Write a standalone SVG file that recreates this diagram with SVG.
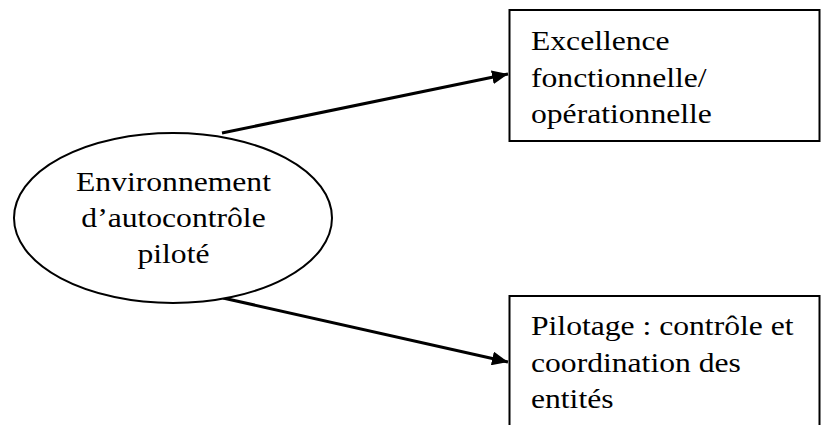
<svg xmlns="http://www.w3.org/2000/svg" width="821" height="425" viewBox="0 0 821 425">
<style>
.shape{fill:#fff;stroke:#000;stroke-width:2}
.conn{stroke:#000;stroke-width:3;fill:none}
.t{font-family:"Liberation Serif","Times New Roman",serif;font-size:27.5px;fill:#000}
.c{text-anchor:middle}
</style>
<defs>
<marker id="arr" markerUnits="userSpaceOnUse" markerWidth="18" markerHeight="14" refX="16" refY="7" orient="auto">
<path d="M0,0 L16,7 L0,14 Z" fill="#000"/>
</marker>
</defs>
<rect width="821" height="425" fill="#fff"/>
<g id="connectors">
<line class="conn" x1="222" y1="133" x2="508" y2="74" marker-end="url(#arr)"/>
<line class="conn" x1="223" y1="298" x2="508" y2="362" marker-end="url(#arr)"/>
</g>
<g id="node-env">
<ellipse class="shape" cx="173" cy="218" rx="159" ry="85"/>
<g transform="translate(173.5,0) scale(1.15,1)">
<text class="t c" x="0" y="191">Environnement</text>
<text class="t c" x="0" y="227">d’autocontrôle</text>
<text class="t c" x="0" y="263">piloté</text>
</g>
</g>
<g id="node-excellence">
<rect class="shape" x="509.5" y="10" width="310" height="131"/>
<g transform="translate(531,0) scale(1.15,1)">
<text class="t" x="0" y="50">Excellence</text>
<text class="t" x="0" y="87">fonctionnelle/</text>
<text class="t" x="0" y="123">opérationnelle</text>
</g>
</g>
<g id="node-pilotage">
<rect class="shape" x="509.5" y="296" width="310" height="150"/>
<g transform="translate(531,0) scale(1.15,1)">
<text class="t" x="0" y="335">Pilotage : contrôle et</text>
<text class="t" x="0" y="372">coordination des</text>
<text class="t" x="0" y="408">entités</text>
</g>
</g>
</svg>
